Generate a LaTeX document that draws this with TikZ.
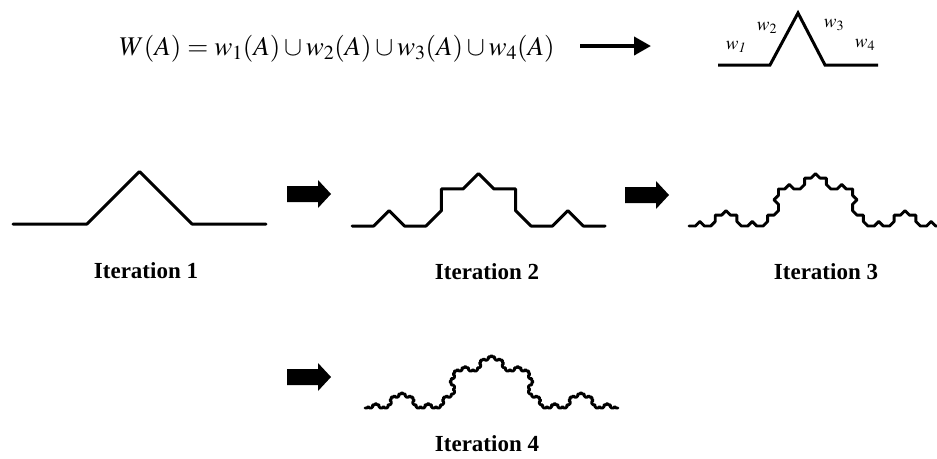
\documentclass[tikz,border=0pt]{standalone}
\usepackage{mathptmx}
\usepackage[no-math]{fontspec}
\setmainfont{Liberation Serif}
\usetikzlibrary{lindenmayersystems,arrows.meta}

\pgfdeclarelindenmayersystem{quadkoch}{
  \rule{F -> F+F--F+F}
}

\tikzset{
  curve/.style={line width=3pt, line join=round, line cap=round},
  eqtext/.style={inner sep=0pt, font=\fontsize{27}{32}\selectfont},
  wlabel/.style={inner sep=0pt, font=\fontsize{19}{22}\selectfont},
  itlabel/.style={inner sep=0pt, font=\fontsize{23}{27}\selectfont\bfseries},
  blockarrow/.pic={
    \fill (0,-8) -- (31,-8) -- (31,-14) -- (44,0) -- (31,14) -- (31,8) -- (0,8) -- cycle;
  }
}

\begin{document}
\begin{tikzpicture}[x=1pt, y=-1pt]
  \useasboundingbox (0,0) rectangle (937,458);
  \clip (0,0) rectangle (937,458);

  % rule defining the attractor
  \node[eqtext, anchor=base] (eq) at (337,55)
    {$W(A)=w_1(A)\cup w_2(A)\cup w_3(A)\cup w_4(A)$};
  \coordinate (arrS) at (580,46);
  \coordinate (arrE) at (651,46);
  \draw[line width=4pt, -{Triangle[length=17pt,width=18pt]}] (arrS) -- (arrE);

  % generator with its four maps
  \draw[curve, line join=miter, line cap=butt]
    (718,65) -- (770,65) -- (798,13) -- (825,65) -- (878,65);
  \node[wlabel] (w1) at (736,47) {$w_{\mathit 1}$};
  \node[wlabel] (w2) at (767,28) {$w_2$};
  \node[wlabel] (w3) at (834,25) {$w_3$};
  \node[wlabel] (w4) at (865,45) {$w_4$};

  % iterations of the curve (segment length = 253/(2+sqrt 2)^n)
  \draw[curve, shift={(13,224)},
        lindenmayer system={quadkoch, axiom=F, order=1, step=74.10pt, angle=45}]
        lindenmayer system;
  \draw[curve, shift={(352,226)},
        lindenmayer system={quadkoch, axiom=F, order=2, step=21.704pt, angle=45}]
        lindenmayer system;
  \draw[curve, line width=2.9pt, shift={(689,226)},
        lindenmayer system={quadkoch, axiom=F, order=3, step=6.357pt, angle=45}]
        lindenmayer system;
  \draw[curve, line width=2.9pt, shift={(365,408)},
        lindenmayer system={quadkoch, axiom=F, order=4, step=1.862pt, angle=45}]
        lindenmayer system;

  % block arrows between the stages
  \pic at (287,194) {blockarrow};
  \pic at (625,195) {blockarrow};
  \pic at (287,377) {blockarrow};

  % captions
  \node[itlabel] (it1) at (146,271) {Iteration 1};
  \node[itlabel] (it2) at (487,272) {Iteration 2};
  \node[itlabel] (it3) at (826,272) {Iteration 3};
  \node[itlabel] (it4) at (487,444) {Iteration 4};
\end{tikzpicture}
\end{document}
